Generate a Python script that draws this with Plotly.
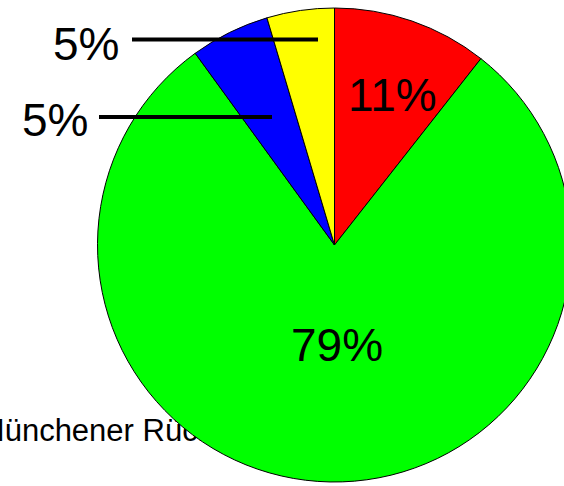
import plotly.graph_objects as go

# Data (clockwise from 12 o'clock)
labels = ["Rot", "Grün", "Blau", "Gelb"]
values = [10.6, 79.4, 5.4, 4.6]
colors = ["#FF0000", "#00FF00", "#0000FF", "#FFFF00"]
source_text = "Münchener Rück"

W, H = 572, 486
ML, MR, MT, MB = 0, 0, 8, 4
PW, PH = W - ML - MR, H - MT - MB
PIE_LEFT = 97  # pixel where the pie domain starts


def px(x):
    return (x - ML) / PW


def py(y):
    return (H - MB - y) / PH


total = sum(values)
pct = [f"{round(v / total * 100)}%" for v in values]

FONT = "Arial, Liberation Sans, sans-serif"

fig = go.Figure()

# source text on a hidden cartesian layer, which sits beneath the pie
fig.add_trace(
    go.Scatter(
        x=[96], y=[433], mode="text", text=[source_text],
        textposition="middle center", cliponaxis=False, hoverinfo="skip",
        textfont=dict(family=FONT, size=31, color="black"), showlegend=False,
    )
)

fig.add_trace(
    go.Pie(
        labels=labels,
        values=values,
        sort=False,
        direction="clockwise",
        rotation=0,
        marker=dict(colors=colors, line=dict(color="black", width=1)),
        textinfo="none",
        hoverinfo="label+percent",
        showlegend=False,
        domain=dict(x=[px(PIE_LEFT), 1], y=[0, 1]),
    )
)

annotations = []
label_pos = [(392, 95), (337, 345), (55, 120), (86, 44)]
for (x, y), t in zip(label_pos, pct):
    annotations.append(
        dict(
            x=px(x), y=py(y), xref="paper", yref="paper", text=t, showarrow=False,
            font=dict(family=FONT, size=46, color="black"),
            xanchor="center", yanchor="middle",
        )
    )

shapes = [
    # leader lines
    dict(type="line", xref="paper", yref="paper", x0=px(99), x1=px(272), y0=py(117), y1=py(117),
         line=dict(color="black", width=4)),
    dict(type="line", xref="paper", yref="paper", x0=px(132), x1=px(318), y0=py(39.5), y1=py(39.5),
         line=dict(color="black", width=4)),
]

fig.update_layout(
    width=W, height=H,
    margin=dict(l=ML, r=MR, t=MT, b=MB, pad=0),
    paper_bgcolor="white", plot_bgcolor="white",
    annotations=annotations, shapes=shapes,
    xaxis=dict(range=[ML, W - MR], visible=False, fixedrange=True),
    yaxis=dict(range=[H - MB, MT], visible=False, fixedrange=True),
)

fig.write_html(
    "out.html",
    config={"displayModeBar": False},
    post_script=(
        "document.documentElement.style.overflow='hidden';"
        "document.body.style.margin='0';"
        "document.body.style.overflow='hidden';"
    ),
)
